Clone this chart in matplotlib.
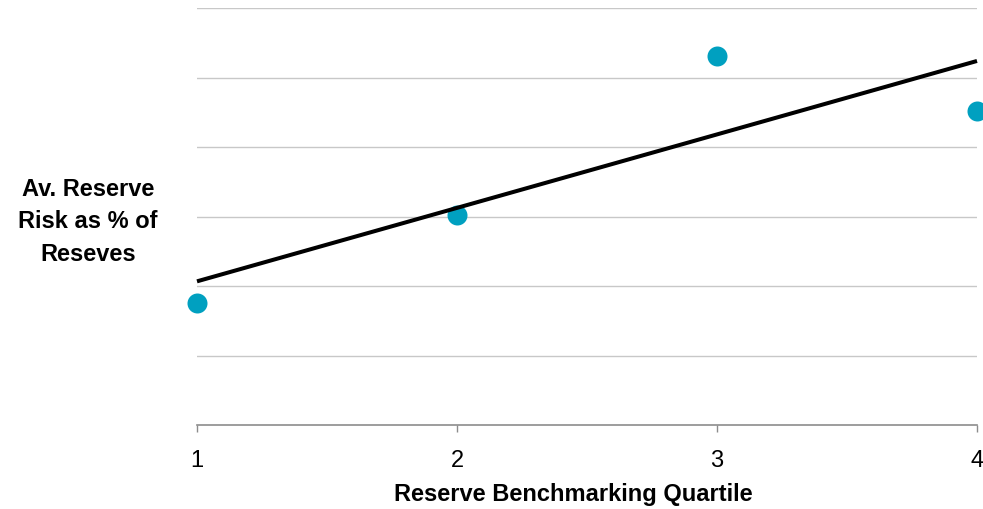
import numpy as np
import matplotlib
matplotlib.use("Agg")
import matplotlib.pyplot as plt

plt.rcParams['font.family'] = ['Liberation Sans', 'DejaVu Sans']

# Average reserve risk per benchmarking quartile
quartiles = [1, 2, 3, 4]
reserve_risk = [1.76, 3.02, 5.31, 4.52]
tick_labels = ["1", "2", "3", "4"]

fig = plt.figure(figsize=(9.83, 5.10), dpi=100)
ax = fig.add_axes([197 / 983, 84 / 510, 780 / 983, 417 / 510])

ax.set_xlim(1, 4)
ax.set_ylim(0, 6)
ax.set_yticks(np.arange(1, 7))
ax.yaxis.grid(True, color="#c8c8c8", linewidth=1.0)
ax.set_axisbelow(True)
ax.tick_params(axis="y", left=False, labelleft=False)

for side in ("left", "right", "top"):
    ax.spines[side].set_visible(False)
ax.spines["bottom"].set_color("#8c8c8c")
ax.spines["bottom"].set_linewidth(1.2)

ax.set_xticks(quartiles)
ax.set_xticklabels(tick_labels, fontsize=17)
ax.tick_params(axis="x", direction="out", length=5, width=1.0,
               color="#8c8c8c", pad=12)

# data points
ax.plot(quartiles, reserve_risk, linestyle="none", marker="o",
        markersize=14.4, color="#00a0c0", markeredgewidth=0,
        clip_on=False, zorder=3)

# least-squares trend line
slope, intercept = np.polyfit(quartiles, reserve_risk, 1)
xs = np.array([quartiles[0], quartiles[-1]], dtype=float)
ax.plot(xs, slope * xs + intercept, color="black", linewidth=2.9,
        solid_capstyle="butt", clip_on=False, zorder=4)

ax.set_xlabel("Reserve Benchmarking Quartile", fontsize=17,
              fontweight="bold")
ax.xaxis.set_label_coords(0.483, -0.137)

fig.text(88 / 983, 1 - 222 / 510, "Av. Reserve\nRisk as % of\nReseves",
         ha="center", va="center", fontsize=17, fontweight="bold",
         linespacing=1.52)

fig.savefig("out.png", dpi=100)
